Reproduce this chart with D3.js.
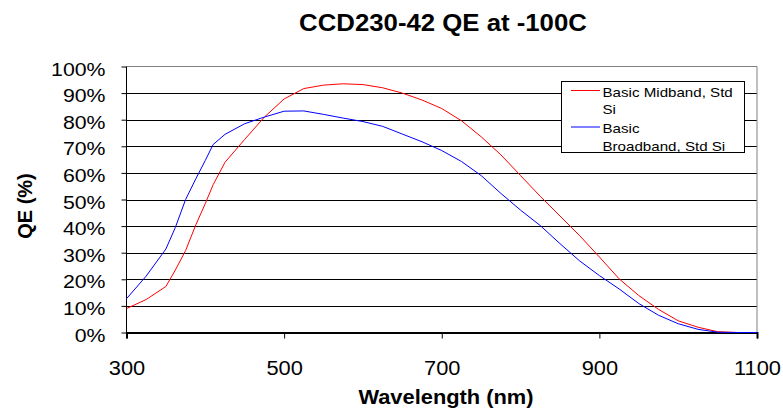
<!DOCTYPE html>
<html>
<head>
<meta charset="utf-8">
<script src="https://cdn.jsdelivr.net/npm/d3@7"></script>
<style>
  body { margin: 0; background: #fff; }
  svg { font-family: Arial, "Liberation Sans", sans-serif; }
</style>
</head>
<body>
<svg id="chart" width="783" height="412"></svg>
<script>
// wavelength samples (nm)
var wavelengths = [300, 325, 350, 362, 375, 388, 400, 410, 425, 450, 475, 500, 525, 550, 575, 600,
    625, 650, 675, 700, 725, 750, 775, 800, 825, 850, 875, 900, 925, 950, 975, 1000, 1025, 1050, 1075, 1100];

// QE in percent
var midband = [9, 12.4, 17.3, 23.5, 30.8, 40.5, 48.5, 55.6, 64, 72.6, 81, 87.8, 91.7, 93, 93.5, 93.2,
    92, 90, 87.4, 84.2, 79.6, 73.6, 66.8, 59, 51.2, 43.8, 36.4, 28.4, 20.2, 13.9, 8.7, 4.4, 2, 0.3, 0, 0];
var broadband = [12.7, 21.2, 31.4, 39.5, 50, 57.8, 64.7, 70.7, 74.5, 78.5, 81, 83.2, 83.3, 82, 80.6, 79.3,
    77.5, 74.6, 71.7, 68.4, 64.3, 59, 52.3, 46, 40.2, 33.4, 26.9, 21.4, 16.4, 10.9, 6.5, 3.3, 1.2, 0.1, 0, 0];

var legendRows = [['Basic Midband, Std', 'Si'], ['Basic', 'Broadband, Std Si']];
var seriesColors = ['#ff0000', '#0000ff'];
var xTicks = [300, 500, 700, 900, 1100];
var yTicks = [0, 10, 20, 30, 40, 50, 60, 70, 80, 90, 100];

var svg = d3.select('#chart');
var pLeft = 126.5, pRight = 757, pTop = 66.5, pBottom = 332.5;
var stretch = 1.12; // the source picture is a bit wider than tall

var x = d3.scaleLinear().domain([300, 1100]).range([pLeft, pRight]);
var y = d3.scaleLinear().domain([0, 100]).range([pBottom, pTop]);

// widen a text horizontally, like the original
function widen(sel){
    sel.each(function(){
        var w = this.getComputedTextLength();
        d3.select(this).attr('textLength', w * stretch).attr('lengthAdjust', 'spacingAndGlyphs');
    });
}

// title
svg.append('text')
    .attr('x', 443).attr('y', 30.5)
    .attr('text-anchor', 'middle')
    .style('font-size', '23px').style('font-weight', 'bold')
    .text('CCD230-42 QE at -100C')
    .call(widen);

// gridlines
svg.append('g').selectAll('line')
    .data(yTicks.slice(1, -1)).enter()
    .append('line')
    .attr('x1', pLeft).attr('x2', pRight)
    .attr('y1', function(d){ return Math.round(y(d)) + 0.5; })
    .attr('y2', function(d){ return Math.round(y(d)) + 0.5; })
    .style('stroke', '#000').style('stroke-width', 1);

// plot frame (top + right)
svg.append('path')
    .attr('d', 'M' + pLeft + ',' + pTop + 'H' + pRight + 'V' + pBottom)
    .style('fill', 'none').style('stroke', '#808080').style('stroke-width', 1);

// y axis
var yAxis = svg.append('g')
    .attr('transform', 'translate(' + pLeft + ',0)')
    .call(d3.axisLeft(y).tickValues(yTicks).tickSize(5).tickPadding(16)
        .tickFormat(function(d){ return d + '%'; }));
yAxis.select('.domain').remove();
yAxis.append('line')
    .attr('x1', 0).attr('x2', 0).attr('y1', pTop).attr('y2', pBottom)
    .style('stroke', '#000');
yAxis.selectAll('.tick line').style('stroke', '#000');
yAxis.selectAll('text')
    .attr('dy', '8.5px')
    .style('font-size', '19px').style('fill', '#000')
    .call(widen);

// x axis
var xAxis = svg.append('g')
    .attr('transform', 'translate(0,' + pBottom + ')')
    .call(d3.axisBottom(x).tickValues(xTicks).tickSize(6).tickFormat(d3.format('d')));
xAxis.select('.domain').style('stroke', '#000').style('stroke-width', 2);
xAxis.selectAll('line').style('stroke', '#000');
xAxis.selectAll('text')
    .attr('y', 42.5).attr('dy', 0)
    .style('font-size', '19.5px').style('fill', '#000')
    .call(widen);

// axis titles
svg.append('text')
    .attr('x', 446).attr('y', 404)
    .attr('text-anchor', 'middle')
    .style('font-size', '19.5px').style('font-weight', 'bold')
    .text('Wavelength (nm)')
    .call(widen);

svg.append('text')
    .attr('transform', 'translate(32,206) rotate(-90)')
    .attr('text-anchor', 'middle')
    .style('font-size', '20px').style('font-weight', 'bold')
    .text('QE (%)');

// curves
var line = d3.line()
    .x(function(d){ return x(d[0]); })
    .y(function(d){ return y(d[1]); });

[midband, broadband].forEach(function(vals, i){
    svg.append('path')
        .datum(d3.zip(wavelengths, vals))
        .attr('d', line)
        .style('fill', 'none')
        .style('stroke', seriesColors[i])
        .style('stroke-width', 1);
});

// legend
var lg = svg.append('g');
lg.append('rect')
    .attr('x', 561.5).attr('y', 81.5).attr('width', 183).attr('height', 71)
    .style('fill', '#fff').style('stroke', '#000');

legendRows.forEach(function(r, i){
    var cy = 90.5 + i * 36.5;
    lg.append('line')
        .attr('x1', 571).attr('x2', 600)
        .attr('y1', cy).attr('y2', cy)
        .style('stroke', seriesColors[i]).style('stroke-width', 1);
    r.forEach(function(t, j){
        lg.append('text')
            .attr('x', 602.5).attr('y', cy + 6 + j * 17.5)
            .style('font-size', '13.5px')
            .text(t)
            .call(widen);
    });
});
</script>
</body>
</html>
